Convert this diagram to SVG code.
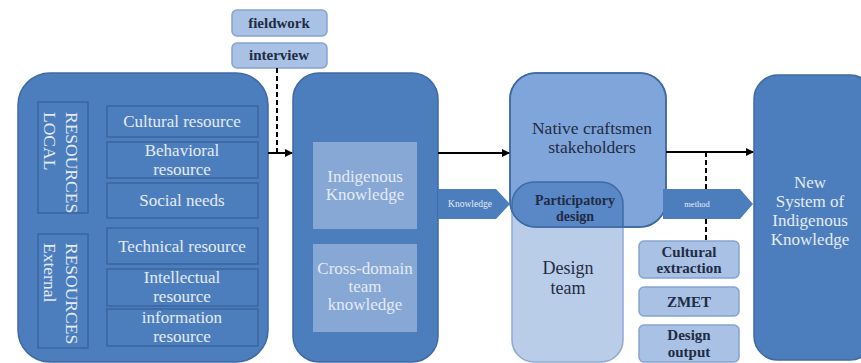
<svg xmlns="http://www.w3.org/2000/svg" width="861" height="363" viewBox="0 0 861 363">
<style>
text{font-family:"Liberation Serif","DejaVu Serif",serif;text-anchor:middle}
.big{fill:#4c7ebd;stroke:#3f6aa3;stroke-width:1.5}
.item{fill:#4c7ebd;stroke:#3a659e;stroke-width:1.5}
.lt{fill:#e4ebf5;font-size:17px}
.inner{fill:#87a7d5}
.small{fill:#a8c1e4;stroke:#86a4d0;stroke-width:1.5}
.dk{fill:#1f2c44;font-size:15px;font-weight:bold}
.conn{stroke:#000;stroke-width:2;fill:none}
.dash{stroke:#000;stroke-width:2;stroke-dasharray:5 3;fill:none}
.vt{fill:#e4ebf5;font-size:17.5px;text-anchor:start}
</style>
<defs>
<marker id="ah" markerWidth="8" markerHeight="8" refX="7" refY="4" orient="auto" markerUnits="userSpaceOnUse">
<path d="M0,0 L8,4 L0,8 z" fill="#000"/>
</marker>
<clipPath id="nativeClip"><rect x="510" y="73" width="156" height="154" rx="26"/></clipPath>
</defs>

<g id="left-box">
<rect class="big" x="18" y="73" width="250" height="289" rx="32"/>
<g id="local-label">
<rect class="item" x="38" y="102" width="50" height="111"/>
<text class="vt" transform="translate(66,112) rotate(90)">RESOURCES<tspan x="0" dy="22">LOCAL</tspan></text>
</g>
<g id="external-label">
<rect class="item" x="38" y="234" width="50" height="114"/>
<text class="vt" transform="translate(66,243) rotate(90)">RESOURCES<tspan x="0" dy="22">External</tspan></text>
</g>
<g id="cultural-resource"><rect class="item" x="107" y="106" width="151" height="31"/><text class="lt" x="182" y="127">Cultural resource</text></g>
<g id="behavioral-resource"><rect class="item" x="107" y="142" width="151" height="36"/><text class="lt" x="182" y="156">Behavioral</text><text class="lt" x="182" y="175">resource</text></g>
<g id="social-needs"><rect class="item" x="107" y="183" width="151" height="35"/><text class="lt" x="182" y="206">Social needs</text></g>
<g id="technical-resource"><rect class="item" x="107" y="228" width="151" height="36"/><text class="lt" x="182" y="252">Technical resource</text></g>
<g id="intellectual-resource"><rect class="item" x="107" y="269" width="151" height="37"/><text class="lt" x="182" y="283">Intellectual</text><text class="lt" x="182" y="302">resource</text></g>
<g id="information-resource"><rect class="item" x="107" y="309" width="151" height="37"/><text class="lt" x="182" y="323">information</text><text class="lt" x="182" y="342">resource</text></g>
</g>

<g id="fieldwork"><rect class="small" x="232" y="10" width="95" height="26" rx="5"/><text class="dk" x="279" y="28" font-size="14.5">fieldwork</text></g>
<g id="interview"><rect class="small" x="232" y="43" width="95" height="25" rx="5"/><text class="dk" x="279" y="60" font-size="14.5">interview</text></g>

<g id="middle-box">
<rect class="big" x="293" y="73" width="145" height="289" rx="26"/>
<g id="indigenous-knowledge"><rect class="inner" x="313" y="142" width="104" height="87"/><text class="lt" x="365" y="182" font-size="15">Indigenous</text><text class="lt" x="365" y="200" font-size="15">Knowledge</text></g>
<g id="cross-domain"><rect class="inner" x="313" y="244" width="104" height="88"/><text class="lt" x="365" y="274" font-size="15">Cross-domain</text><text class="lt" x="365" y="292" font-size="15">team</text><text class="lt" x="365" y="310" font-size="15">knowledge</text></g>
</g>

<g id="knowledge-tag"><path d="M438,189 L496,189 L510,204 L496,219 L438,219 z" fill="#4c7ebd"/><text x="470" y="207" fill="#e4ebf5" font-size="9.5">Knowledge</text></g>

<g id="design-team"><rect x="512" y="182" width="111" height="180" rx="22" fill="#b9cce8" stroke="#8ea9d2" stroke-width="1.5"/><text x="568" y="274" fill="#1f2c44" font-size="18">Design</text><text x="568" y="294" fill="#1f2c44" font-size="18">team</text></g>

<g id="native-craftsmen"><rect x="510" y="73" width="156" height="154" rx="26" fill="#7fa5da" stroke="#3f6aa3" stroke-width="1.5"/><text x="592" y="134" fill="#1f2c44" font-size="17.5">Native craftsmen</text><text x="592" y="153" fill="#1f2c44" font-size="17.5">stakeholders</text></g>

<g id="participatory-design"><rect x="512" y="182" width="111" height="180" rx="22" fill="#5a87c6" stroke="#3f6aa3" stroke-width="1.5" clip-path="url(#nativeClip)"/><rect x="510" y="73" width="156" height="154" rx="26" fill="none" stroke="#3f6aa3" stroke-width="1.5"/><text x="575" y="205" fill="#1f2c44" font-size="14" font-weight="bold">Participatory</text><text x="575" y="221" fill="#1f2c44" font-size="14" font-weight="bold">design</text></g>

<g id="method-tag"><path d="M663,189 L740,189 L753,204 L740,219 L663,219 z" fill="#4c7ebd"/><text x="697" y="207" fill="#e4ebf5" font-size="8.5">method</text></g>

<g id="cultural-extraction"><rect class="small" x="639" y="241" width="100" height="37" rx="5"/><text class="dk" x="689" y="257">Cultural</text><text class="dk" x="689" y="273">extraction</text></g>
<g id="zmet"><rect class="small" x="639" y="287" width="100" height="29" rx="5"/><text class="dk" x="689" y="307">ZMET</text></g>
<g id="design-output"><rect class="small" x="639" y="325" width="100" height="37" rx="5"/><text class="dk" x="689" y="340">Design</text><text class="dk" x="689" y="357">output</text></g>

<g id="new-system"><rect class="big" x="754" y="75" width="120" height="285" rx="24"/><text class="lt" x="810" y="188">New</text><text class="lt" x="810" y="207">System of</text><text class="lt" x="810" y="226">Indigenous</text><text class="lt" x="810" y="245">Knowledge</text></g>

<g id="connectors">
<path class="dash" d="M277,68 V152"/>
<path class="conn" d="M268,153 H292" marker-end="url(#ah)"/>
<path class="conn" d="M438,153 H509" marker-end="url(#ah)"/>
<path class="conn" d="M666,152 H753" marker-end="url(#ah)"/>
<path class="dash" d="M706,152 V189"/>
<path class="dash" d="M706,219 V241"/>
</g>
</svg>
